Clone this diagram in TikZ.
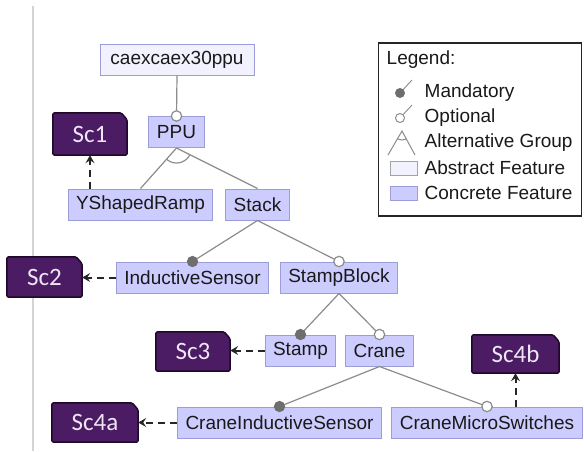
\documentclass[tikz,border=0pt]{standalone}
\usepackage{fontspec}
\setmainfont{Liberation Sans}
\newfontfamily\scfont{Carlito}
\usetikzlibrary{arrows.meta}
\pgfdeclarelayer{background}
\pgfsetlayers{background,main}
\definecolor{concfill}{HTML}{CCCCFF}
\definecolor{concdraw}{HTML}{9C9CD8}
\definecolor{absfill}{HTML}{F2F2FF}
\definecolor{edgegray}{HTML}{8C8C8C}
\definecolor{mandfill}{HTML}{6E6E6E}
\definecolor{scfill}{HTML}{4B1B63}
\definecolor{scdraw}{HTML}{1E0A28}
\definecolor{sctext}{HTML}{EEE6F4}
\definecolor{sidegray}{HTML}{D4D4D4}
\begin{document}
\begin{tikzpicture}[x=1pt,y=-1pt,
  feat/.style={draw=concdraw, fill=concfill, line width=1pt, minimum height=31pt,
    inner xsep=8pt, inner ysep=0pt, font=\fontsize{19}{22}\selectfont, text=black!90},
  absfeat/.style={feat, fill=absfill},
  scbox/.style={rectangle, inner sep=0pt, minimum height=40pt,
    font=\scfont\fontsize{25}{28}\selectfont, text=sctext},
  scshape/.style={draw=scdraw, fill=scfill, line width=1.5pt, rounded corners=1.5pt},
  edge/.style={draw=edgegray, line width=1.2pt},
  mandc/.style={fill=mandfill, draw=mandfill, line width=0.8pt},
  optc/.style={fill=white, draw=edgegray, line width=1.2pt},
  dasharr/.style={draw=black!85, line width=2pt, dash pattern=on 7pt off 5pt,
    -{Stealth[length=8pt,width=9pt,inset=3pt]}},
  legtext/.style={anchor=west, inner sep=0pt, font=\fontsize{19}{22}\selectfont, text=black!90},
]
\useasboundingbox (0,0) rectangle (584,451);

% feature nodes
\node[absfeat, minimum width=154pt] (root) at (177,59.5) {caexcaex30ppu};
\node[feat] (ppu) at (176.5,132) {PPU};
\node[feat] (ysr) at (140.5,204.5) {YShapedRamp};
\node[feat] (stack) at (257.5,204.5) {Stack};
\node[feat] (is) at (192.5,277.5) {InductiveSensor};
\node[feat] (sb) at (339,277.5) {StampBlock};
\node[feat] (stamp) at (300.5,350.5) {Stamp};
\node[feat] (crane) at (379.5,350.5) {Crane};
\node[feat] (cis) at (279.5,422.5) {CraneInductiveSensor};
\node[feat] (cms) at (487,422.5) {CraneMicroSwitches};

% scenario nodes
\node[scbox, minimum width=74pt, minimum height=42pt] (sc1) at (90,134) {Sc1};
\node[scbox, minimum width=75pt] (sc2) at (44.5,277) {Sc2};
\node[scbox, minimum width=74pt, minimum height=39pt] (sc3) at (193,351.5) {Sc3};
\node[scbox, minimum width=86pt, minimum height=39pt] (sc4a) at (95,422.5) {Sc4a};
\node[scbox, minimum width=87pt, minimum height=38pt] (sc4b) at (515.5,354) {Sc4b};

\begin{pgfonlayer}{background}
  \draw[sidegray, line width=1.2pt] (33,6) -- (33,451);
  \foreach \n in {sc1,sc2,sc3,sc4a,sc4b}
    \draw[scshape] (\n.south west) -- (\n.north west) -- ([xshift=-6pt]\n.north east)
      -- ([yshift=-7pt]\n.north east) -- (\n.south east) -- cycle;
\end{pgfonlayer}

% tree edges
\draw[edge] (root.south) -- (ppu.north);
\draw[edge] (ppu.south) -- (ysr.north);
\draw[edge] (ppu.south) -- (stack.north);
\begin{scope}
  \clip (ppu.south) -- (ysr.north) -- (stack.north) -- cycle;
  \draw[edge] (ppu.south) circle (15pt);
\end{scope}
\draw[edge] (stack.south) -- (is.north);
\draw[edge] (stack.south) -- (sb.north);
\draw[edge] (sb.south) -- (stamp.north);
\draw[edge] (sb.south) -- (crane.north);
\draw[edge] (crane.south) -- (cis.north);
\draw[edge] (crane.south) -- (cms.north);

% decorations
\draw[optc] (ppu.north) circle (5.2pt);
\draw[mandc] (is.north) circle (5.2pt);
\draw[optc] (sb.north) circle (5.2pt);
\draw[mandc] (stamp.north) circle (5.2pt);
\draw[optc] (crane.north) circle (5.2pt);
\draw[mandc] (cis.north) circle (5.2pt);
\draw[optc] (cms.north) circle (5.2pt);

% scenario links
\draw[dasharr] (ysr.north -| sc1.south) -- (sc1.south);
\draw[dasharr] (is.west) -- (is.west -| sc2.east);
\draw[dasharr] (stamp.west) -- (stamp.west -| sc3.east);
\draw[dasharr] (cis.west) -- (cis.west -| sc4a.east);
\draw[dasharr] (cms.north -| sc4b.south) -- (sc4b.south);

% legend
\node[draw=black!85, line width=1.3pt, minimum width=203.5pt, minimum height=173pt, inner sep=0pt] (legend) at (480,129.5) {};
\node[legtext] (lgtitle) at (386.5,60) {Legend:};
\node[legtext] (lgmand) at (424.5,93) {Mandatory};
\node[legtext] (lgopt) at (424.5,118) {Optional};
\node[legtext] (lgalt) at (424.5,143) {Alternative Group};
\node[legtext] (lgabs) at (424.5,168) {Abstract Feature};
\node[legtext] (lgconc) at (424.5,193) {Concrete Feature};
\coordinate (mandtip) at (412,80);
\coordinate (mandc) at (400,93);
\coordinate (opttip) at (412,105);
\coordinate (optcc) at (400,118);
\draw[edgegray, line width=0.9pt] (mandc) -- (mandtip);
\fill[mandfill] (mandc) circle (5pt);
\draw[edgegray, line width=0.9pt] (optcc) -- (opttip);
\draw[fill=white, draw=edgegray, line width=1pt] (optcc) circle (4.5pt);
\coordinate (altapex) at (402,131);
\coordinate (altl) at (388,155);
\coordinate (altr) at (415,155);
\draw[edgegray, line width=1pt] (altl) -- (altapex) -- (altr);
\begin{scope}
  \clip (altapex) -- (altl) -- (altr) -- cycle;
  \draw[edgegray, line width=1pt] (altapex) circle (9pt);
\end{scope}
\node[draw=edgegray!80, fill=absfill, line width=1pt, minimum width=27pt, minimum height=14pt, inner sep=0pt] (lgabsbox) at (403.5,168) {};
\node[draw=concdraw, fill=concfill, line width=1pt, minimum width=27pt, minimum height=14pt, inner sep=0pt] (lgconcbox) at (403.5,193) {};
\end{tikzpicture}
\end{document}
